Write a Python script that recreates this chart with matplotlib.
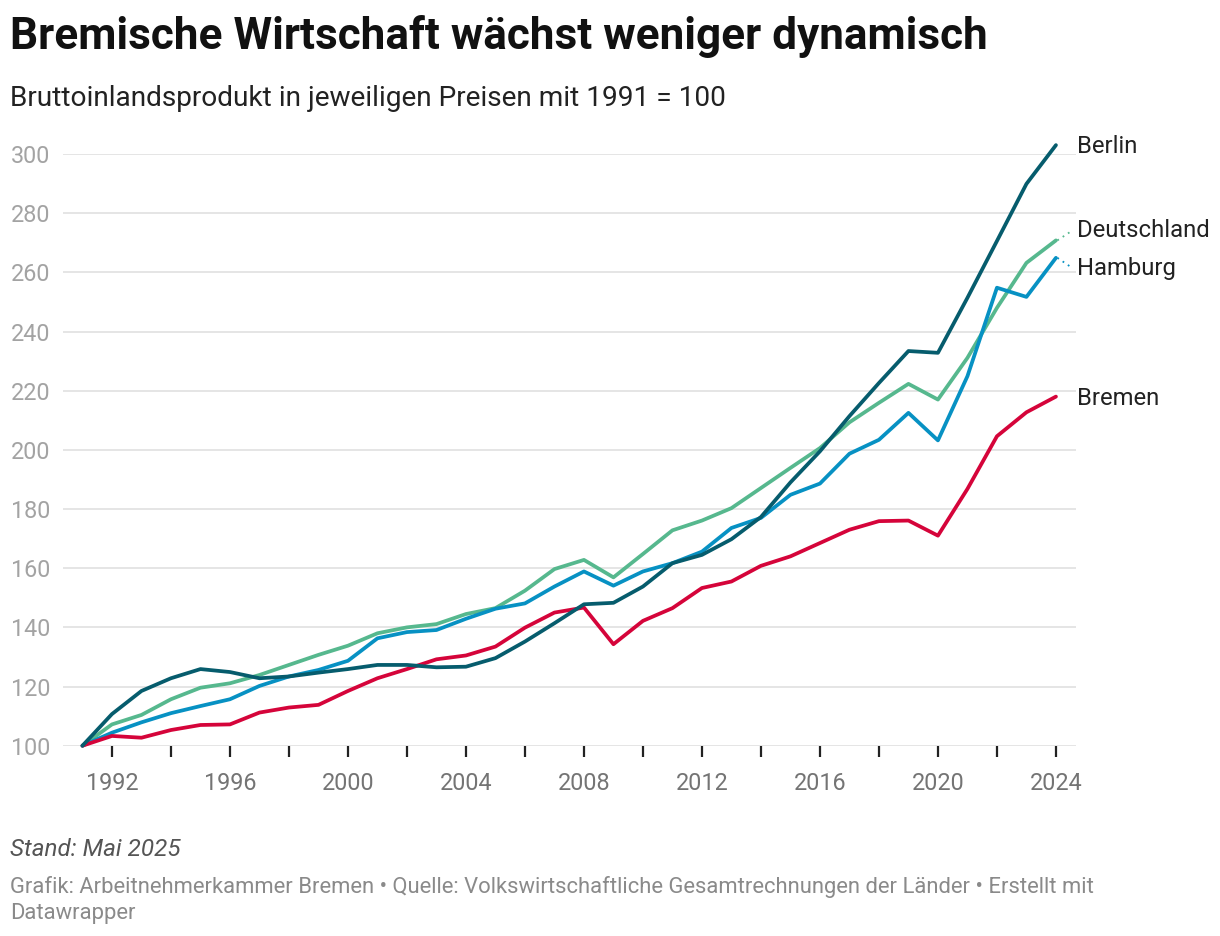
import numpy as np
import matplotlib
matplotlib.use('Agg')
import matplotlib.pyplot as plt

plt.rcParams['font.family'] = ['Roboto', 'DejaVu Sans']

years = list(range(1991, 2025))

# GDP index, current prices, 1991 = 100
berlin = [100, 110.7, 118.5, 122.8, 125.9, 124.9, 122.8, 123.4, 124.7, 125.9,
          127.3, 127.3, 126.5, 126.7, 129.6, 135.2, 141.4, 147.8, 148.3, 153.8,
          161.7, 164.5, 169.8, 177.3, 189.0, 199.5, 211.4, 222.6, 233.4, 232.8,
          251.4, 270.6, 289.9, 303.0]
deutschland = [100, 107.2, 110.4, 115.7, 119.6, 121.1, 123.9, 127.3, 130.7, 133.8,
               138.0, 140.0, 141.1, 144.5, 146.5, 152.4, 159.7, 162.8, 156.9, 164.8,
               172.8, 176.1, 180.3, 187.1, 193.9, 200.6, 209.3, 215.9, 222.3, 217.0,
               231.1, 248.0, 263.2, 270.8]
hamburg = [100, 104.4, 107.9, 111.0, 113.4, 115.7, 120.2, 123.4, 125.6, 128.7,
           136.3, 138.4, 139.1, 142.9, 146.3, 148.1, 153.8, 158.9, 154.1, 158.9,
           161.7, 165.6, 173.6, 177.0, 184.8, 188.6, 198.7, 203.4, 212.5, 203.2,
           224.9, 254.8, 251.7, 264.9]
bremen = [100, 103.3, 102.7, 105.3, 107.0, 107.2, 111.2, 112.9, 113.8, 118.5,
          122.8, 125.9, 129.2, 130.5, 133.5, 139.9, 145.0, 146.7, 134.3, 142.2,
          146.5, 153.3, 155.5, 160.8, 164.0, 168.5, 173.0, 175.9, 176.1, 171.0,
          186.8, 204.6, 212.7, 218.0]

series = [
    ('Deutschland', deutschland, '#56b88e'),
    ('Hamburg', hamburg, '#0791c3'),
    ('Bremen', bremen, '#d5043a'),
    ('Berlin', berlin, '#065c6d'),
]
# label y positions (data units), shifted where labels would collide
label_pos = {'Berlin': 302.5, 'Deutschland': 274.3, 'Hamburg': 261.3, 'Bremen': 217.5}

yticks = [100, 120, 140, 160, 180, 200, 220, 240, 260, 280, 300]
xticks_minor = list(range(1992, 2025, 2))
xticks_major = list(range(1992, 2025, 4))

fig = plt.figure(figsize=(12.2, 9.36), dpi=100)
ax = fig.add_axes([63 / 1220, 1 - 745.7 / 936, (1076 - 63) / 1220, (745.7 - 154) / 936])

for name, vals, col in series:
    ax.plot(years, vals, color=col, linewidth=2.7, solid_capstyle='round',
            solid_joinstyle='round', clip_on=False, zorder=3)

ax.set_xlim(1990.34, 2024.68)
ax.set_ylim(100, 300)

for y in yticks:
    ax.axhline(y, color='#e3e3e3', linewidth=1.3, zorder=1)

ax.set_yticks(yticks)
ax.set_yticklabels([str(v) for v in yticks])
ax.tick_params(axis='y', length=0, pad=0, labelsize=16.8, labelcolor='#a3a3a3')
for lab in ax.get_yticklabels():
    lab.set_horizontalalignment('left')
    lab.set_x(-52 / 1013)

ax.set_xticks(xticks_minor, minor=True)
ax.set_xticks(xticks_major)
ax.set_xticklabels([str(v) for v in xticks_major])
ax.tick_params(axis='x', which='both', length=8, width=1.6, color='#222222', direction='out')
ax.tick_params(axis='x', which='major', labelsize=16.8, labelcolor='#747474', pad=11)

for s in ax.spines.values():
    s.set_visible(False)

# direct labels at line ends
x_lab = 2024.7
for name, vals, col in series:
    ly = label_pos[name]
    if abs(ly - vals[-1]) > 1.5:
        ax.plot([years[-1] + 0.05, x_lab - 0.12], [vals[-1], ly], color=col,
                linewidth=1.3, linestyle=(0, (1, 2.5)), clip_on=False, zorder=2)
    ax.text(x_lab, ly, name, fontsize=17.2, color='#222222', va='center', ha='left',
            clip_on=False)

fig.text(10 / 1220, 1 - 36 / 936, 'Bremische Wirtschaft wächst weniger dynamisch',
         fontsize=31.8, fontweight='bold', color='#111111', va='center', ha='left')
fig.text(10 / 1220, 1 - 98 / 936, 'Bruttoinlandsprodukt in jeweiligen Preisen mit 1991 = 100',
         fontsize=20.2, color='#222222', va='center', ha='left')

fig.text(10 / 1220, 1 - 850 / 936, 'Stand: Mai 2025', fontsize=17.5, style='italic',
         color='#555555', va='center', ha='left')
fig.text(10 / 1220, 1 - 887 / 936,
         'Grafik: Arbeitnehmerkammer Bremen \u2022 Quelle: Volkswirtschaftliche Gesamtrechnungen der Länder \u2022 Erstellt mit',
         fontsize=15.8, color='#8a8a8a', va='center', ha='left')
fig.text(10 / 1220, 1 - 913 / 936, 'Datawrapper', fontsize=15.8, color='#8a8a8a',
         va='center', ha='left')

fig.savefig('out.png', dpi=100, facecolor='white')
